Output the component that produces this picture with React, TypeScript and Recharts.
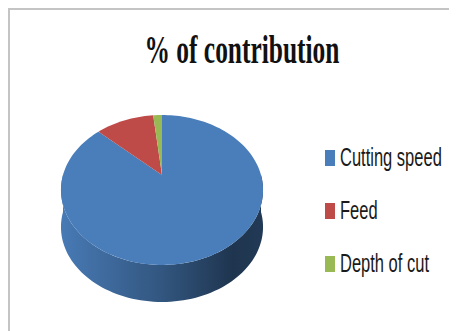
import React from 'react';
import { Legend, Pie, PieChart } from 'recharts';

const names = ['Cutting speed', 'Feed', 'Depth of cut'];
const values = [87.0, 11.3, 1.7];
const colors = ['#4a7ebb', '#be4b48', '#98b954'];

const data = names.map((name, i) => ({ name, value: values[i], fill: colors[i] }));

// fake Excel-style 3D: perspective-tilted disc plus an extruded front wall
const TILT = 0.727;
const PERSP = 0.2;
const DEPTH = 37;

function proj(cx: number, cy: number, r: number, deg: number): [number, number] {
  const a = (deg * Math.PI) / 180;
  const u = Math.cos(a);
  const s = -Math.sin(a);
  const k = 1 / (1 - PERSP * s);
  return [cx + r * u * k, cy + r * TILT * s * k];
}

function arc(cx: number, cy: number, r: number, a1: number, a2: number) {
  const n = Math.max(2, Math.ceil(Math.abs(a2 - a1) / 2));
  const pts: [number, number][] = [];
  for (let i = 0; i <= n; i++) pts.push(proj(cx, cy, r, a1 + ((a2 - a1) * i) / n));
  return pts;
}

function shade(hex: string, f: number) {
  const n = parseInt(hex.slice(1), 16);
  const c = [(n >> 16) & 255, (n >> 8) & 255, n & 255].map((v) => Math.round(v * f));
  return `rgb(${c.join(',')})`;
}

function TopFace(props: any) {
  const { cx, cy, outerRadius, startAngle, endAngle, fill } = props;
  const pts = arc(cx, cy, outerRadius, startAngle, endAngle);
  const d = `M${cx},${cy} ` + pts.map((p) => `L${p[0]},${p[1]}`).join(' ') + ' Z';
  return <path d={d} fill={fill} />;
}

function SideWall(props: any) {
  const { cx, cy, outerRadius, startAngle, endAngle, fill, index } = props;
  const lo = Math.min(startAngle, endAngle);
  const hi = Math.max(startAngle, endAngle);
  const paths: string[] = [];
  for (let k = -2; k <= 2; k++) {
    const a1 = Math.max(lo, -180 + 360 * k);
    const a2 = Math.min(hi, 360 * k);
    if (a2 - a1 <= 0.01) continue;
    const top = arc(cx, cy, outerRadius, a1, a2);
    const bottom = top.map(([x, y]) => [x, y + DEPTH]).reverse();
    paths.push(
      'M' + top.map((p) => `${p[0]},${p[1]}`).join(' L') + ' L' + bottom.map((p) => `${p[0]},${p[1]}`).join(' L') + ' Z',
    );
  }
  const id = `side-${index}`;
  return (
    <g>
      <defs>
        <linearGradient id={id} x1="0" y1="0" x2="1" y2="0">
          <stop offset="0%" stopColor={shade(fill, 0.97)} />
          <stop offset="50%" stopColor={shade(fill, 0.68)} />
          <stop offset="85%" stopColor={shade(fill, 0.42)} />
          <stop offset="100%" stopColor={shade(fill, 0.46)} />
        </linearGradient>
      </defs>
      {paths.map((d, i) => (
        <path key={i} d={d} fill={`url(#${id})`} />
      ))}
    </g>
  );
}

const renderLegend = () => (
  <div>
    {names.map((name, i) => (
      <div key={i} style={{ display: 'flex', alignItems: 'center', height: 53 }}>
        <span style={{ display: 'inline-block', flex: 'none', width: 10, height: 16, background: colors[i], marginRight: 5 }} />
        <span
          style={{
            display: 'inline-block',
            fontFamily: '"Liberation Sans", Arial, sans-serif',
            fontSize: 25,
            lineHeight: 1,
            color: '#1a1a1a',
            transform: 'scaleX(0.66)',
            transformOrigin: 'left center',
            whiteSpace: 'nowrap',
          }}
        >
          {name}
        </span>
      </div>
    ))}
  </div>
);

export default function App() {
  return (
    <div
      style={{
        position: 'relative',
        width: 447,
        height: 321,
        borderTop: '2px solid #c4c4c4',
        borderLeft: '2px solid #c4c4c4',
        background: '#fff',
        overflow: 'hidden',
      }}
    >
      <div
        style={{
          position: 'absolute',
          left: 32,
          top: 19,
          width: 400,
          textAlign: 'center',
          fontFamily: '"Liberation Serif", "Times New Roman", serif',
          fontWeight: 'bold',
          fontSize: 41,
          lineHeight: 1,
          color: '#111',
          transform: 'scaleX(0.62)',
          transformOrigin: 'center',
          whiteSpace: 'nowrap',
        }}
      >
        % of contribution
      </div>
      <div style={{ position: 'absolute', left: 0, top: 0 }}>
        <PieChart width={447} height={321} margin={{ top: 0, right: 0, bottom: 0, left: 0 }}>
          <Pie
            data={data}
            dataKey="value"
            nameKey="name"
            cx={152}
            cy={165}
            outerRadius={99}
            startAngle={90}
            endAngle={-270}
            stroke="none"
            shape={SideWall}
            legendType="none"
            isAnimationActive={false}
          />
          <Pie
            data={data}
            dataKey="value"
            nameKey="name"
            cx={152}
            cy={165}
            outerRadius={99}
            startAngle={90}
            endAngle={-270}
            stroke="none"
            shape={TopFace}
            isAnimationActive={false}
          />
          <Legend
            layout="vertical"
            align="right"
            verticalAlign="middle"
            content={renderLegend}
            wrapperStyle={{ position: 'absolute', left: 315, top: 121, width: 130, height: 160 }}
          />
        </PieChart>
      </div>
    </div>
  );
}
